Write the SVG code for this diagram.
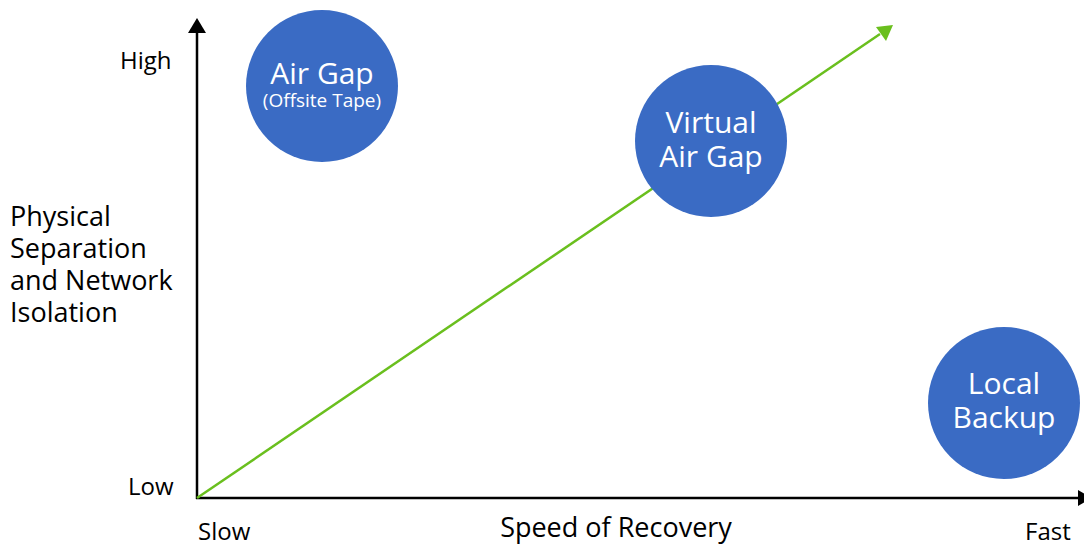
<svg xmlns="http://www.w3.org/2000/svg" width="1084" height="546" viewBox="0 0 1084 546">
<style>
text{font-family:"Open Sans","Noto Sans","Liberation Sans",sans-serif;}
.lbl{fill:#000;font-size:24px;}
.big{fill:#000;font-size:27px;}
.node circle{fill:#3a6bc4;}
.node text{fill:#fff;text-anchor:middle;font-size:30px;}
.node text.sub{font-size:19px;}
</style>
<g id="connectors">
<line x1="197" y1="499" x2="197" y2="33" stroke="#000" stroke-width="2.5"/>
<path d="M188,33 L197,18 L206,33 z" fill="#000"/>
<line x1="196" y1="498" x2="1080" y2="498" stroke="#000" stroke-width="2.5"/>
<path d="M1078,490 L1092,498 L1078,506 z" fill="#000"/>
<line x1="197" y1="498" x2="880" y2="34" stroke="#6abf1e" stroke-width="2.5"/>
<path d="M876,27 L893,25 L886,41 z" fill="#6abf1e"/>
</g>
<g id="axis-labels">
<text class="lbl" x="120" y="69">High</text>
<text class="lbl" x="128" y="495">Low</text>
<text class="lbl" x="198" y="540">Slow</text>
<text class="lbl" x="1025" y="540">Fast</text>
<text class="big" x="616" y="537" text-anchor="middle">Speed of Recovery</text>
<text class="big" x="10" y="226">Physical</text>
<text class="big" x="10" y="258">Separation</text>
<text class="big" x="10" y="290">and Network</text>
<text class="big" x="10" y="322">Isolation</text>
</g>
<g id="air-gap" class="node">
<circle cx="322" cy="86" r="76"/>
<text x="322" y="84">Air Gap</text>
<text class="sub" x="322" y="107">(Offsite Tape)</text>
</g>
<g id="virtual-air-gap" class="node">
<circle cx="711" cy="141" r="76"/>
<text x="711" y="133">Virtual</text>
<text x="711" y="167">Air Gap</text>
</g>
<g id="local-backup" class="node">
<circle cx="1004" cy="403" r="76"/>
<text x="1004" y="394">Local</text>
<text x="1004" y="428">Backup</text>
</g>
</svg>
